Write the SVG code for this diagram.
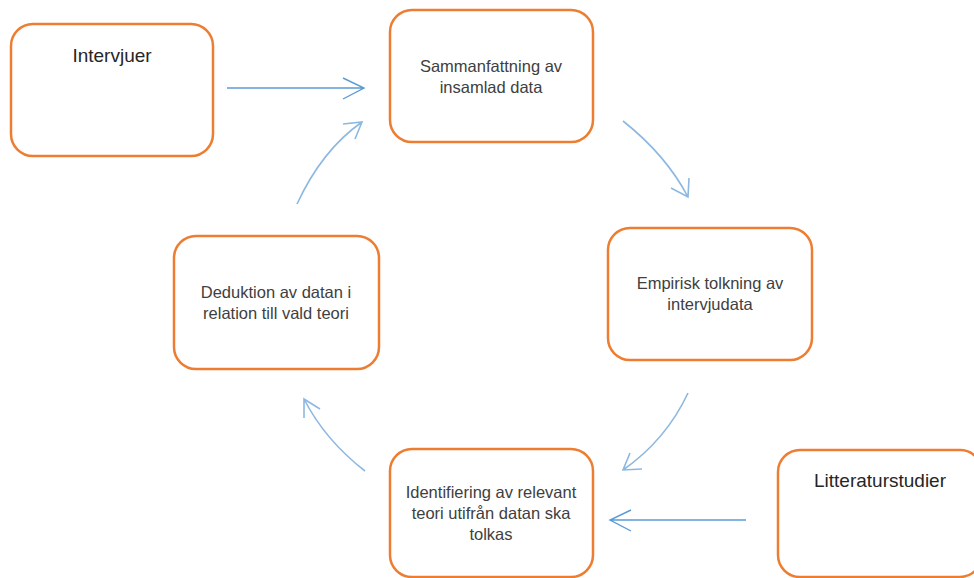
<svg xmlns="http://www.w3.org/2000/svg" width="974" height="578" viewBox="0 0 974 578">
<style>
.box{fill:#fff;stroke:#ED7D31;stroke-width:2.5}
.t{font-family:"Liberation Sans",Arial,sans-serif;font-size:16.5px;fill:#404040;text-anchor:middle}
.tl{font-family:"Liberation Sans",Arial,sans-serif;font-size:19px;fill:#262626;text-anchor:middle}
.a{fill:none;stroke:#5B9BD5;stroke-width:1.4}
.c{fill:none;stroke:#8DB8E2;stroke-width:1.6}
</style>
<rect width="974" height="578" fill="#fff"/>
<g id="connectors">
<path class="a" d="M227 88H364M343 78L364 88L343 99"/>
<path class="c" d="M623 121Q666 155 688 197M671 188L688 197L689 178"/>
<path class="c" d="M688 393Q666 440 623 470M630 453L623 470L642 469"/>
<path class="a" d="M746 520H610M631 510L610 520L631 531"/>
<path class="c" d="M365 471Q325 440 304 399M320 409L304 399L304 418"/>
<path class="c" d="M297 204Q322 150 362 122M343 124L362 122L355 139"/>
</g>
<g id="n-intervjuer"><rect class="box" x="11" y="24" width="202" height="132" rx="22"/><text class="tl" x="112" y="62">Intervjuer</text></g>
<g id="n-sammanfattning"><rect class="box" x="390" y="10" width="203" height="132" rx="22"/><text class="t" x="491" y="72">Sammanfattning av</text><text class="t" x="491" y="93">insamlad data</text></g>
<g id="n-empirisk"><rect class="box" x="608" y="228" width="204" height="132" rx="22"/><text class="t" x="710" y="289">Empirisk tolkning av</text><text class="t" x="710" y="310">intervjudata</text></g>
<g id="n-deduktion"><rect class="box" x="174" y="236" width="205" height="133" rx="22"/><text class="t" x="276" y="298">Deduktion av datan i</text><text class="t" x="276" y="319">relation till vald teori</text></g>
<g id="n-identifiering"><rect class="box" x="390" y="449" width="203" height="128" rx="22"/><text class="t" x="491" y="498">Identifiering av relevant</text><text class="t" x="491" y="519">teori utifrån datan ska</text><text class="t" x="491" y="540">tolkas</text></g>
<g id="n-litteraturstudier"><rect class="box" x="778" y="450" width="204" height="127" rx="22"/><text class="tl" x="880" y="487">Litteraturstudier</text></g>
</svg>
